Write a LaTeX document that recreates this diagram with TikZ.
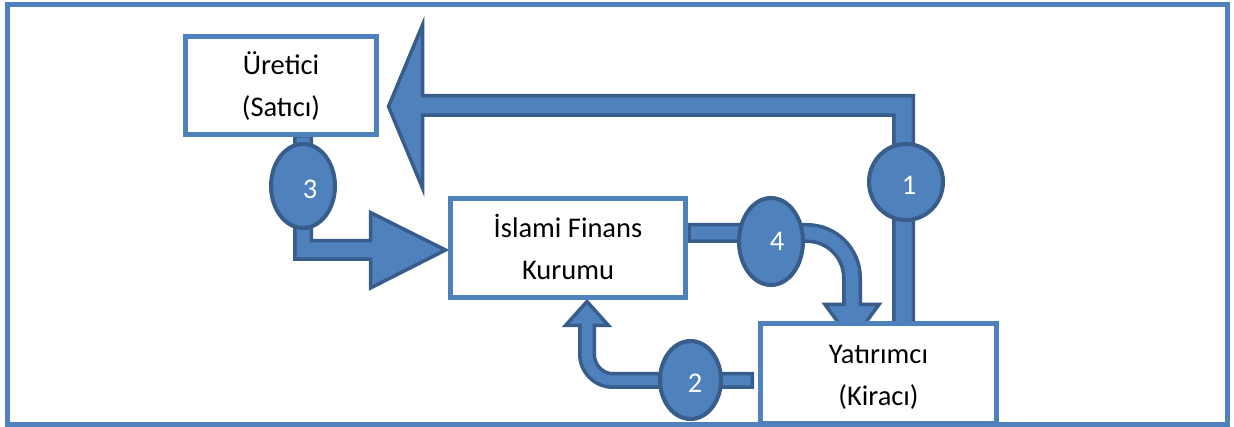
\documentclass[tikz,border=0pt]{standalone}
\usepackage{fontspec}
\setmainfont{Carlito}
\usetikzlibrary{shapes.geometric}
\definecolor{fillB}{HTML}{4F81BD}
\definecolor{lineB}{HTML}{385D8A}
\begin{document}
\begin{tikzpicture}[x=1pt,y=-1pt,
  frame/.style={draw=fillB, line width=5pt},
  box/.style={draw=fillB, line width=4.5pt, fill=white, inner sep=0pt, rectangle},
  blockarrow/.style={fill=fillB, draw=lineB, line width=3.5pt, line join=miter},
  badge/.style={ellipse, draw=lineB, fill=fillB, line width=4pt, inner sep=0pt},
  num/.style={text=white, font=\fontsize{28.5}{34}\selectfont, anchor=base, inner sep=0pt},
  lbl/.style={text=black, font=\fontsize{28.5}{34}\selectfont, anchor=base, inner sep=0pt}]
\useasboundingbox (0,0) rectangle (1234,427);
\fill[white] (0,0) rectangle (1234,427);
\draw[frame] (7.5,4.5) rectangle (1227,424.5);

% block arrows
% 1: Yatirimci -> Uretici
\draw[blockarrow] (913.25,324) -- (913.25,95.75) -- (422.5,95.75) -- (422.5,25) -- (388.5,106.5) -- (422.5,188) -- (422.5,115.25) -- (893.75,115.25) -- (893.75,324) -- cycle;
% 3: Uretici -> Islami
\draw[blockarrow] (294.75,136) -- (294.75,259.25) -- (370.5,259.25) -- (370.5,288) -- (445.5,250) -- (370.5,212.5) -- (370.5,240.75) -- (311.25,240.75) -- (311.25,136) -- cycle;
% 4: Islami -> Yatirimci
\draw[blockarrow] (689,224.75) -- (807,224.75) .. controls (836.4,224.75) and (860.25,248.6) .. (860.25,278) -- (860.25,304.5) -- (879,304.5) -- (852,341) -- (825,304.5) -- (843.75,304.5) -- (843.75,278) .. controls (843.75,257.7) and (827.3,241.25) .. (807,241.25) -- (689,241.25) -- cycle;
% 2: Yatirimci -> Islami
\draw[blockarrow] (752.25,373.75) -- (613,373.75) .. controls (602.6,373.75) and (594.25,364.9) .. (594.25,354) -- (594.25,325.5) -- (608.5,325.5) -- (587,301.5) -- (565.5,325.5) -- (579.75,325.5) -- (579.75,354) .. controls (579.75,372.4) and (594.5,387.25) .. (613,387.25) -- (752.25,387.25) -- cycle;

% badges
\node[badge, minimum width=64, minimum height=84] (e3) at (303,186) {};
\node[badge, minimum width=74, minimum height=76] (e1) at (906,182) {};
\node[badge, minimum width=64, minimum height=87] (e4) at (771,241.5) {};
\node[badge, minimum width=61, minimum height=78] (e2) at (690.5,380) {};
\node[num] (n3) at (310,199) {3};
\node[num] (n1) at (909,195) {1};
\node[num] (n4) at (777,251) {4};
\node[num] (n2) at (695,392) {2};

% boxes
\node[box, minimum width=191, minimum height=98] (ur) at (281,85.5) {};
\node[box, minimum width=235, minimum height=99] (isl) at (568,248) {};
\node[box, minimum width=236, minimum height=99.5] (yat) at (878.5,373.25) {};

\node[lbl] (ur1) at (281,75) {Üretici};
\node[lbl] (ur2) at (281,117) {(Satıcı)};
\node[lbl] (isl1) at (568,238) {İslami Finans};
\node[lbl] (isl2) at (568,280) {Kurumu};
\node[lbl] (yat1) at (878.5,363) {Yatırımcı};
\node[lbl] (yat2) at (878.5,405) {(Kiracı)};
\end{tikzpicture}
\end{document}
